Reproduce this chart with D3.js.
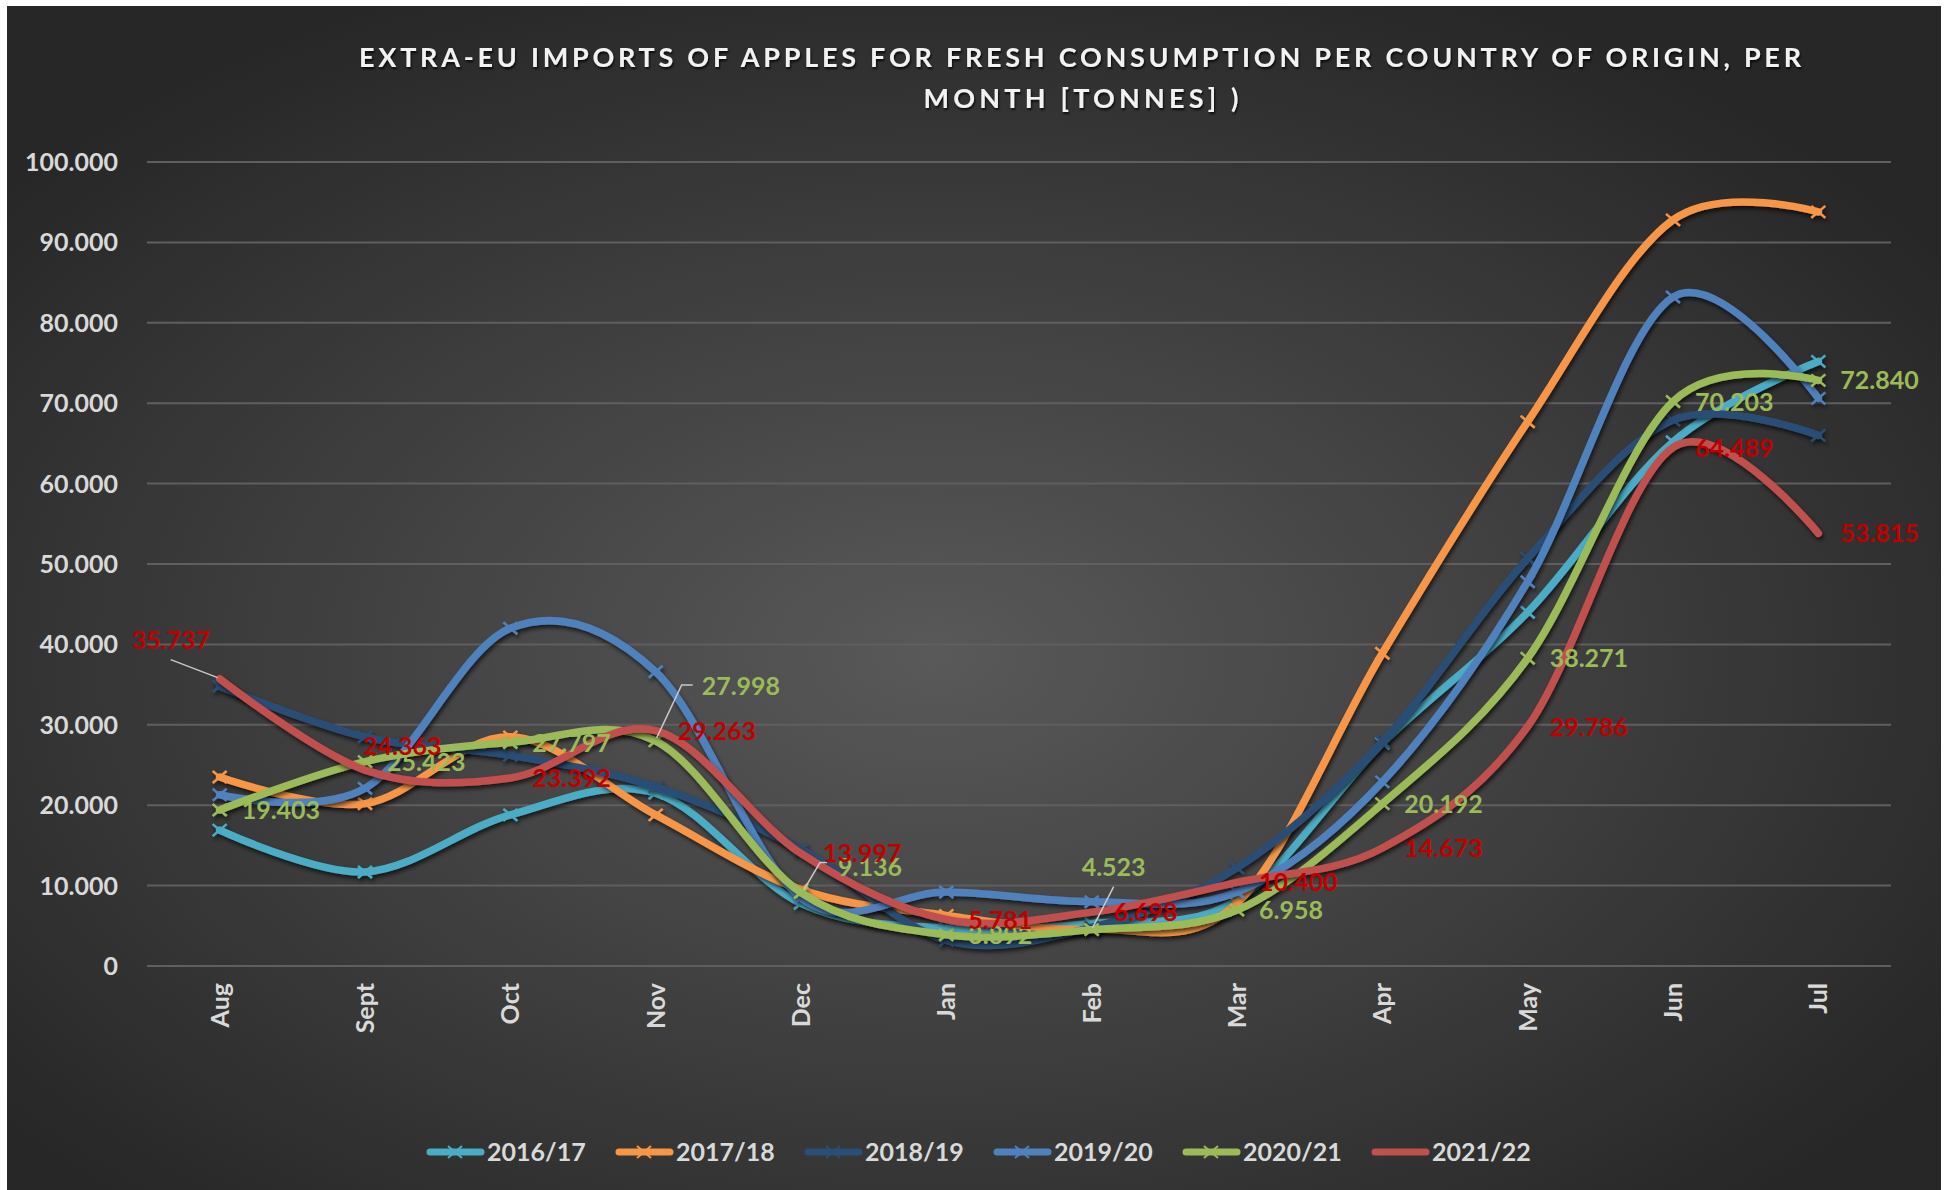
<!DOCTYPE html>
<html lang="en">
<head>
<meta charset="UTF-8">
<title>Extra-EU imports of apples</title>
<style>
    body { margin: 0; background: #fff; }
    svg text { font-family: Lato, "Open Sans", sans-serif; font-weight: 700; }
</style>
</head>
<body>
<svg id="chart" width="1949" height="1190"></svg>

<script src="https://cdn.jsdelivr.net/npm/d3@7/dist/d3.min.js"></script>
<script>

    let months = ["Aug", "Sept", "Oct", "Nov", "Dec", "Jan", "Feb", "Mar", "Apr", "May", "Jun", "Jul"]
    let seasons = ["2016/17", "2017/18", "2018/19", "2019/20", "2020/21", "2021/22"]

    let v1617 = [16900, 11700, 18800, 21500, 7800, 4700, 5300, 8200, 27700, 44000, 65200, 75200]
    let v1718 = [23500, 20200, 28500, 18800, 9500, 6300, 4600, 7800, 38900, 67700, 92800, 93800]
    let v1819 = [34800, 28500, 26200, 22300, 14500, 3200, 4800, 12200, 27900, 50700, 67900, 66000]
    let v1920 = [21300, 22100, 42000, 36600, 8500, 9200, 8000, 9200, 22900, 47800, 83200, 70600]
    let v2021 = [19403, 25423, 27797, 27998, 9136, 3892, 4523, 6958, 20192, 38271, 70203, 72840]
    let v2122 = [35737, 24363, 23392, 29263, 13997, 5781, 6698, 10400, 14673, 29786, 64489, 53815]
    let seriesValues = [v1617, v1718, v1819, v1920, v2021, v2122]

    let yTicks = [0, 10000, 20000, 30000, 40000, 50000, 60000, 70000, 80000, 90000, 100000]

    let colors = ["#4BACC6", "#F79646", "#2C4D75", "#4F81BD", "#9BBB59", "#C0504D"]
    let hasMarkers = [true, true, true, true, true, false]
    let labelColors = { "2020/21": "#9BBB59", "2021/22": "#C00000" }

    // labels that were dragged away from the default "right" spot
    let labelMoves = {
        "2021/22|Aug": { dx: -88, dy: -39, leader: [[-2, -1], [-49, -19]] },
        "2021/22|Sept": { dx: -2, dy: -24 },
        "2020/21|Nov": { dx: 46, dy: -55, leader: [[1, -3], [26, -56], [37, -56]] },
        "2020/21|Dec": { dx: 37, dy: -26, leader: [[3, -3], [19, -30], [26, -30]] },
        "2020/21|Feb": { dx: -10, dy: -63, leader: [[1, -2], [22, -43]] }
    }

    let svg = d3.select("#chart")
    let it = d3.formatLocale({ decimal: ",", thousands: ".", grouping: [3], currency: ["", ""] })
    let fmt = it.format(",")

    let defs = svg.append("defs")
    let grad = defs.append("radialGradient").attr("id", "bg")
        .attr("cx", "48%").attr("cy", "55%").attr("r", "62%")
    grad.append("stop").attr("offset", "0%").attr("stop-color", "#595959")
    grad.append("stop").attr("offset", "100%").attr("stop-color", "#272727")

    defs.append("filter").attr("id", "shadow")
        .attr("x", "-10%").attr("y", "-10%").attr("width", "120%").attr("height", "120%")
        .append("feDropShadow")
        .attr("dx", 1.5).attr("dy", 3).attr("stdDeviation", 2)
        .attr("flood-color", "#000").attr("flood-opacity", 0.65)

    defs.append("filter").attr("id", "textShadow")
        .append("feDropShadow")
        .attr("dx", 1).attr("dy", 2).attr("stdDeviation", 1.2)
        .attr("flood-color", "#000").attr("flood-opacity", 0.8)

    svg.append("rect")
        .attr("x", 7).attr("y", 6).attr("width", 1934).attr("height", 1184)
        .attr("fill", "url(#bg)")

    // title
    let title = svg.append("g").attr("filter", "url(#textShadow)")
        .attr("fill", "#f2f2f2").attr("font-size", 27).attr("text-anchor", "middle")
    title.append("text").attr("x", 1080).attr("y", 67)
        .attr("textLength", 1442).attr("lengthAdjust", "spacing")
        .text("EXTRA-EU IMPORTS OF APPLES FOR FRESH CONSUMPTION PER COUNTRY OF ORIGIN, PER")
    title.append("text").attr("x", 1081).attr("y", 108)
        .attr("textLength", 315).attr("lengthAdjust", "spacing")
        .text("MONTH [TONNES] )")

    let x = d3.scalePoint().domain(months).range([147, 1891]).padding(0.5)
    let y = d3.scaleLinear().domain([0, 100000]).range([966, 162])

    // grid + y labels
    let yAxis = svg.append("g")
    yAxis.selectAll("line").data(yTicks).enter().append("line")
        .attr("x1", 147).attr("x2", 1891)
        .attr("y1", d => y(d)).attr("y2", d => y(d))
        .attr("stroke", "#5f5f5f").attr("stroke-width", 2)
    yAxis.selectAll("text").data(yTicks).enter().append("text")
        .attr("x", 118).attr("y", d => y(d)).attr("dy", "0.36em")
        .attr("text-anchor", "end").attr("font-size", 25).attr("fill", "#d9d9d9")
        .text(d => fmt(d))

    // x labels
    svg.append("g").selectAll("text").data(months).enter().append("text")
        .attr("transform", d => `translate(${x(d)},983) rotate(-90)`)
        .attr("dy", "0.36em").attr("text-anchor", "end")
        .attr("font-size", 25).attr("fill", "#d9d9d9")
        .text(d => d)

    let line = d3.line()
        .x((d, i) => x(months[i]))
        .y(d => y(d))
        .curve(d3.curveCardinal.tension(0))

    let markerPath = "M-7,-6L7,6M-7,6L7,-6"

    seasons.forEach((s, si) => {
        let g = svg.append("g").attr("filter", "url(#shadow)")
        g.append("path").datum(seriesValues[si])
            .attr("d", line)
            .attr("fill", "none").attr("stroke", colors[si])
            .attr("stroke-width", 7.5).attr("stroke-linecap", "round")
        if (hasMarkers[si]) {
            g.selectAll(".m").data(seriesValues[si]).enter().append("path")
                .attr("transform", (d, i) => `translate(${x(months[i])},${y(d)})`)
                .attr("d", markerPath)
                .attr("stroke", colors[si]).attr("stroke-width", 2.5).attr("fill", "none")
        }
    })

    // data labels
    let labels = svg.append("g")
    seasons.forEach((s, si) => {
        if (!labelColors[s]) return
        seriesValues[si].forEach((v, i) => {
            let px = x(months[i]), py = y(v)
            let mv = labelMoves[s + "|" + months[i]] || { dx: 22, dy: 0 }
            if (mv.leader) {
                labels.append("path")
                    .attr("d", "M" + mv.leader.map(p => [px + p[0], py + p[1]].join(",")).join("L"))
                    .attr("fill", "none").attr("stroke", "#c8c8c8").attr("stroke-width", 1.5)
            }
            labels.append("text")
                .attr("x", px + mv.dx).attr("y", py + mv.dy).attr("dy", "0.36em")
                .attr("font-size", 25).attr("font-weight", 900).attr("fill", labelColors[s])
                .text(fmt(v))
        })
    })

    // legend
    let legend = svg.append("g")
    seasons.forEach((s, si) => {
        let lx = 427 + si * 189, ly = 1152
        legend.append("line")
            .attr("x1", lx + 3).attr("x2", lx + 54).attr("y1", ly).attr("y2", ly)
            .attr("stroke", colors[si]).attr("stroke-width", 7).attr("stroke-linecap", "round")
        if (hasMarkers[si]) {
            legend.append("path").attr("transform", `translate(${lx + 28},${ly})`)
                .attr("d", markerPath).attr("stroke", colors[si]).attr("stroke-width", 2).attr("fill", "none")
        }
        legend.append("text")
            .attr("x", lx + 60).attr("y", ly).attr("dy", "0.36em")
            .attr("font-size", 25).attr("fill", "#d9d9d9")
            .text(s)
    })

</script>
</body>
</html>
